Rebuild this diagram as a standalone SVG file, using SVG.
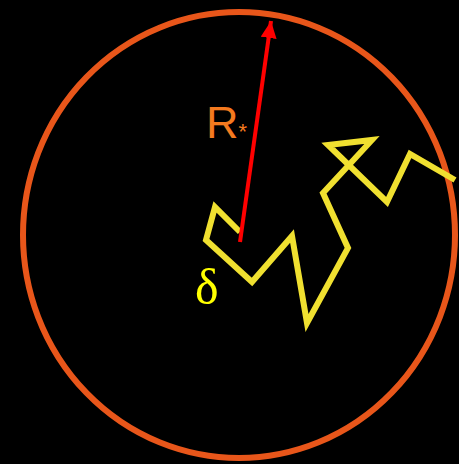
<svg xmlns="http://www.w3.org/2000/svg" width="459" height="464" viewBox="0 0 459 464">
<style>
.circ{fill:none;stroke:#e8561a;stroke-width:6}
.walk{fill:none;stroke:#f0e030;stroke-width:6;stroke-linejoin:miter;stroke-linecap:butt}
.radius{stroke:#ff0000;stroke-width:4}
.lbl{font-family:"Liberation Sans",Arial,sans-serif;fill:#f47a1f}
.delta{font-family:"Liberation Serif","Times New Roman",serif;fill:#ffff00}
</style>
<defs>
<marker id="ah" markerUnits="userSpaceOnUse" markerWidth="18" markerHeight="18" refX="17" refY="8" orient="auto">
<path d="M0,0 L17,8 L0,16 Z" fill="#ff0000"/>
</marker>
</defs>
<rect width="459" height="464" fill="#000"/>
<g id="sphere"><ellipse class="circ" cx="239" cy="235" rx="216" ry="223"/></g>
<g id="connectors">
<polyline id="walk" class="walk" points="240,232 215,207 206,240 252,282 292,236 307,323 348,248 323,193 372,140 328,145 387,202 410,154 455,180"/>
<line class="radius" x1="240" y1="242" x2="271" y2="21" marker-end="url(#ah)"/>
</g>
<g id="label-R"><text class="lbl" x="206" y="138" font-size="45">R<tspan font-size="22" dy="1">*</tspan></text></g>
<g id="label-delta"><text class="delta" x="195" y="304" font-size="50">δ</text></g>
</svg>
